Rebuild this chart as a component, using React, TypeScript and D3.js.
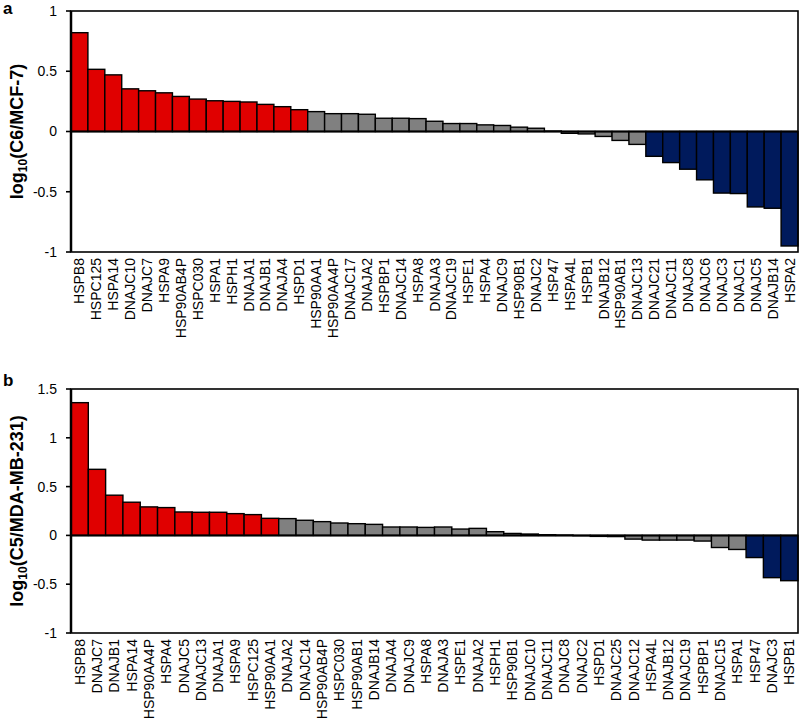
import React from "react";
import * as d3 from "d3";

const genesA = ["HSPB8","HSPC125","HSPA14","DNAJC10","DNAJC7","HSPA9","HSP90AB4P","HSPC030","HSPA1","HSPH1","DNAJA1","DNAJB1","DNAJA4","HSPD1","HSP90AA1","HSP90AA4P","DNAJC17","DNAJA2","HSPBP1","DNAJC14","HSPA8","DNAJA3","DNAJC19","HSPE1","HSPA4","DNAJC9","HSP90B1","DNAJC2","HSP47","HSPA4L","HSPB1","DNAJB12","HSP90AB1","DNAJC13","DNAJC21","DNAJC11","DNAJC8","DNAJC6","DNAJC3","DNAJC1","DNAJC5","DNAJB14","HSPA2"];
const valuesA = [0.82,0.516,0.47,0.354,0.338,0.321,0.291,0.269,0.255,0.25,0.245,0.225,0.206,0.181,0.165,0.148,0.148,0.143,0.11,0.11,0.107,0.085,0.066,0.066,0.055,0.05,0.036,0.027,0.004,-0.015,-0.02,-0.041,-0.074,-0.107,-0.206,-0.258,-0.313,-0.401,-0.511,-0.515,-0.626,-0.637,-0.95];
const groupA = [...Array(14).fill("up"), ...Array(20).fill("ns"), ...Array(9).fill("down")];
const ticksA = [1,0.5,0,-0.5,-1];

const genesB = ["HSPB8","DNAJC7","DNAJB1","HSPA14","HSP90AA4P","HSPA4","DNAJC5","DNAJC13","DNAJA1","HSPA9","HSPC125","HSP90AA1","DNAJA2","DNAJC14","HSP90AB4P","HSPC030","HSP90AB1","DNAJB14","DNAJA4","DNAJC9","HSPA8","DNAJA3","HSPE1","DNAJA2","HSPH1","HSP90B1","DNAJC10","DNAJC11","DNAJC8","DNAJC2","HSPD1","DNAJC25","DNAJC12","HSPA4L","DNAJB12","DNAJC19","HSPBP1","DNAJC15","HSPA1","HSP47","DNAJC3","HSPB1"];
const valuesB = [1.36,0.677,0.412,0.34,0.292,0.285,0.24,0.237,0.237,0.223,0.213,0.175,0.172,0.155,0.141,0.127,0.12,0.113,0.086,0.086,0.082,0.086,0.065,0.072,0.038,0.02,0.014,0.007,0.004,-0.003,-0.01,-0.012,-0.038,-0.048,-0.048,-0.048,-0.058,-0.124,-0.144,-0.227,-0.433,-0.464];
const groupB = [...Array(12).fill("up"), ...Array(27).fill("ns"), ...Array(3).fill("down")];
const ticksB = [1.5,1,0.5,0,-0.5,-1];

const colors: Record<string, string> = { up: "#e00000", ns: "#808080", down: "#001a5c" };
const FONT = "Arial, 'Liberation Sans', sans-serif";

function Panel({ genes, values, groups, ticks, domain, top, bottom, letter, letterY, titleMain, titleRest }: any) {
  const left = 71, right = 798;
  const x = d3.scaleBand<number>().domain(d3.range(genes.length)).range([left, right]).padding(0);
  const y = d3.scaleLinear().domain(domain).range([bottom, top]);
  const midY = (top + bottom) / 2;
  return (
    <g>
      <text x={3} y={letterY} fontFamily={FONT} fontWeight="bold" fontSize={17}>{letter}</text>
      <text transform={`translate(23,${midY}) rotate(-90)`} textAnchor="middle" fontFamily={FONT} fontWeight="bold" fontSize={18}>
        {titleMain}<tspan fontSize={12} dy={4}>10</tspan><tspan dy={-4}>{titleRest}</tspan>
      </text>
      {values.map((v: number, i: number) => (
        <rect key={i} x={x(i)} width={x.bandwidth()} y={y(Math.max(0, v))} height={Math.abs(y(v) - y(0))}
          fill={colors[groups[i]]} stroke="#000" strokeWidth={1.4} />
      ))}
      <line x1={left} x2={right} y1={y(0)} y2={y(0)} stroke="#000" strokeWidth={2} />
      <rect x={left} y={top} width={right - left} height={bottom - top} fill="none" stroke="#000" strokeWidth={1.6} />
      <line x1={left} x2={left} y1={top} y2={bottom} stroke="#000" strokeWidth={2.5} />
      {ticks.map((t: number) => (
        <g key={t}>
          <line x1={left - 5} x2={left} y1={y(t)} y2={y(t)} stroke="#000" strokeWidth={1.6} />
          <text x={left - 14} y={y(t)} dy="0.35em" textAnchor="end" fontFamily={FONT} fontSize={14}>{String(t)}</text>
        </g>
      ))}
      {genes.map((g: string, i: number) => (
        <text key={i} transform={`translate(${(x(i) as number) + x.bandwidth() / 2 + 5},${bottom + 6}) rotate(-90)`}
          textAnchor="end" fontFamily={FONT} fontSize={14}>{g}</text>
      ))}
    </g>
  );
}

export default function App() {
  return (
    <svg width={800} height={727} style={{ display: "block", position: "absolute", left: 0, top: 0, background: "#fff" }}>
      <rect width={800} height={727} fill="#fff" />
      <Panel genes={genesA} values={valuesA} groups={groupA} ticks={ticksA} domain={[-1, 1]} top={11} bottom={252}
        letter="a" letterY={14} titleMain="log" titleRest="(C6/MCF-7)" />
      <Panel genes={genesB} values={valuesB} groups={groupB} ticks={ticksB} domain={[-1, 1.5]} top={389} bottom={633}
        letter="b" letterY={386} titleMain="log" titleRest="(C5/MDA-MB-231)" />
    </svg>
  );
}
